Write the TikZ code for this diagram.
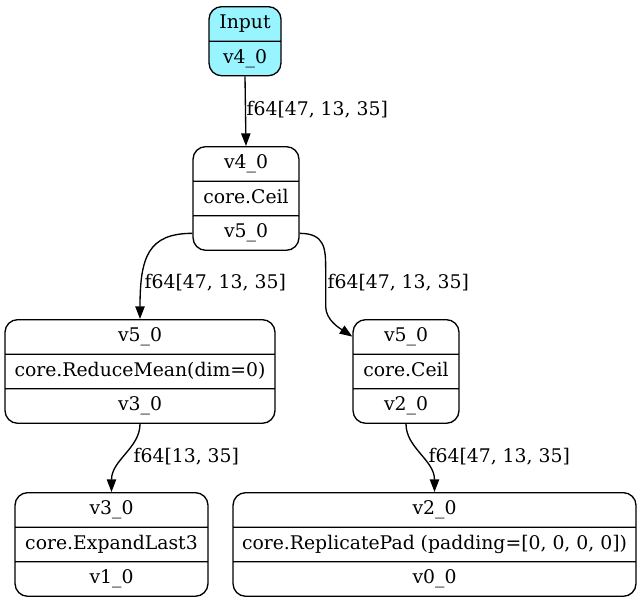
\documentclass[tikz,border=0pt]{standalone}
\usepackage{fontspec}
\setmainfont{DejaVu Serif}
\usetikzlibrary{shapes.multipart,arrows.meta,calc}
\definecolor{inputcyan}{HTML}{98F5FF}
\newcommand{\rowtxt}[1]{\rule[-9pt]{0pt}{24.9pt}#1}

\begin{document}
\begin{tikzpicture}[x=0.75pt,y=-0.75pt,>={Triangle[length=9.5pt,width=7pt]},line width=1pt]
    \tikzstyle{box}=[draw,rectangle split,rectangle split parts=3,rounded corners=9.5pt,inner xsep=3pt,inner ysep=0pt,anchor=north,font=\fontsize{14.1pt}{16pt}\selectfont];
    \tikzstyle{lbl}=[anchor=west,inner sep=0pt,font=\fontsize{14.1pt}{16pt}\selectfont];

    \useasboundingbox (0,0) rectangle (642,601);

    \node at (245,6) (in) [box,rectangle split parts=2,fill=inputcyan,minimum width=54pt] {\rowtxt{Input}\nodepart{two}\rowtxt{v4\_0}};
    \node at (246,146) (c1) [box,minimum width=79.5pt] {\rowtxt{v4\_0}\nodepart{two}\rowtxt{core.Ceil}\nodepart{three}\rowtxt{v5\_0}};
    \node at (140,319) (rm) [box,minimum width=202.5pt] {\rowtxt{v5\_0}\nodepart{two}\rowtxt{core.ReduceMean(dim=0)}\nodepart{three}\rowtxt{v3\_0}};
    \node at (406,319) (c2) [box,minimum width=79.5pt] {\rowtxt{v5\_0}\nodepart{two}\rowtxt{core.Ceil}\nodepart{three}\rowtxt{v2\_0}};
    \node at (111.5,492) (ex) [box,minimum width=144.75pt] {\rowtxt{v3\_0}\nodepart{two}\rowtxt{core.ExpandLast3}\nodepart{three}\rowtxt{v1\_0}};
    \node at (434.5,492) (rp) [box,minimum width=302.25pt] {\rowtxt{v2\_0}\nodepart{two}\rowtxt{core.ReplicatePad (padding=[0, 0, 0, 0])}\nodepart{three}\rowtxt{v0\_0}};

    \coordinate (c1l) at ($(c1.two split west)!.5!(c1.south west)$);
    \coordinate (c1r) at ($(c1.two split east)!.5!(c1.south east)$);
    \coordinate (c2in) at ($(c2.north west)!.5!(c2.text split west)$);

    \draw[->] (in.south) -- (c1.north);
    \draw[->] (c1l) .. controls +(-44,0) and +(0,-62) .. (rm.north);
    \draw[->] (c1r) .. controls +(25,0) and +(0,-20) .. ++(26,35) -- ++(0,38) .. controls +(0,14) and +(-12,-8) .. (c2in);
    \draw[->] (rm.south) .. controls +(0,24) and +(0,-32) .. (ex.north);
    \draw[->] (c2.south) .. controls +(0,24) and +(0,-32) .. (rp.north);

    \node at (246,110) (l1) [lbl] {f64[47, 13, 35]};
    \node at (144,283) (l2) [lbl] {f64[47, 13, 35]};
    \node at (327,283) (l3) [lbl] {f64[47, 13, 35]};
    \node at (133,457) (l4) [lbl] {f64[13, 35]};
    \node at (428,457) (l5) [lbl] {f64[47, 13, 35]};
\end{tikzpicture}
\end{document}
